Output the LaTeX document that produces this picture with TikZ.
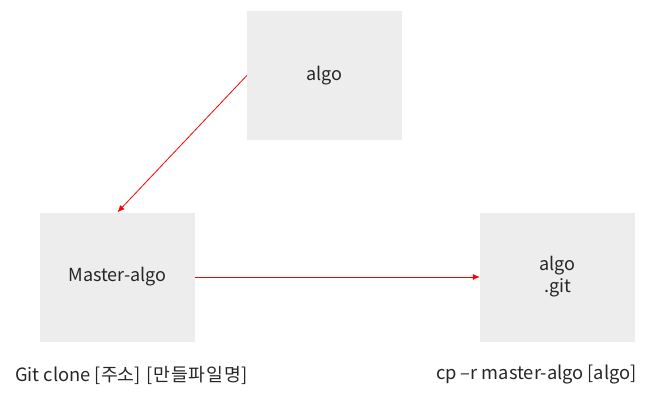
\documentclass[tikz,border=0pt]{standalone}
\usepackage{fontspec}
\setmainfont{Noto Sans CJK KR}
\usetikzlibrary{arrows.meta}
\definecolor{boxgray}{HTML}{EDEDED}
\tikzset{
  gbox/.style={fill=boxgray, draw=none, minimum width=155pt, minimum height=129pt, inner sep=0pt, font=\fontsize{18}{22}\selectfont, align=center, text=black!85},
  redarrow/.style={draw=red, line width=0.8pt, -{Latex[length=7pt,width=6pt]}},
  caption/.style={font=\fontsize{18.3}{22}\selectfont, text=black!85, inner sep=0pt}
}
\begin{document}
\begin{tikzpicture}[x=1pt,y=-1pt]
\useasboundingbox (0,0) rectangle (657,404);
\node[gbox] (top) at (324.5,75.5) {algo};
\node[gbox] (left) at (117.5,277) {Master-algo};
\node[gbox] (right) at (557.5,277) {algo\\[0pt].git};
\draw[redarrow] (top.west) -- (left.north);
\draw[redarrow] (left.east) -- (right.west);
\node[caption, anchor=west] (c1) at (15,375) {Git clone [주소] \kern2pt[만\kern1pt 들\kern1pt 파\kern1pt 일\kern1pt 명]};
\node[caption, anchor=east] (c2) at (637,375) {cp –r master-algo [algo]};
\end{tikzpicture}
\end{document}
